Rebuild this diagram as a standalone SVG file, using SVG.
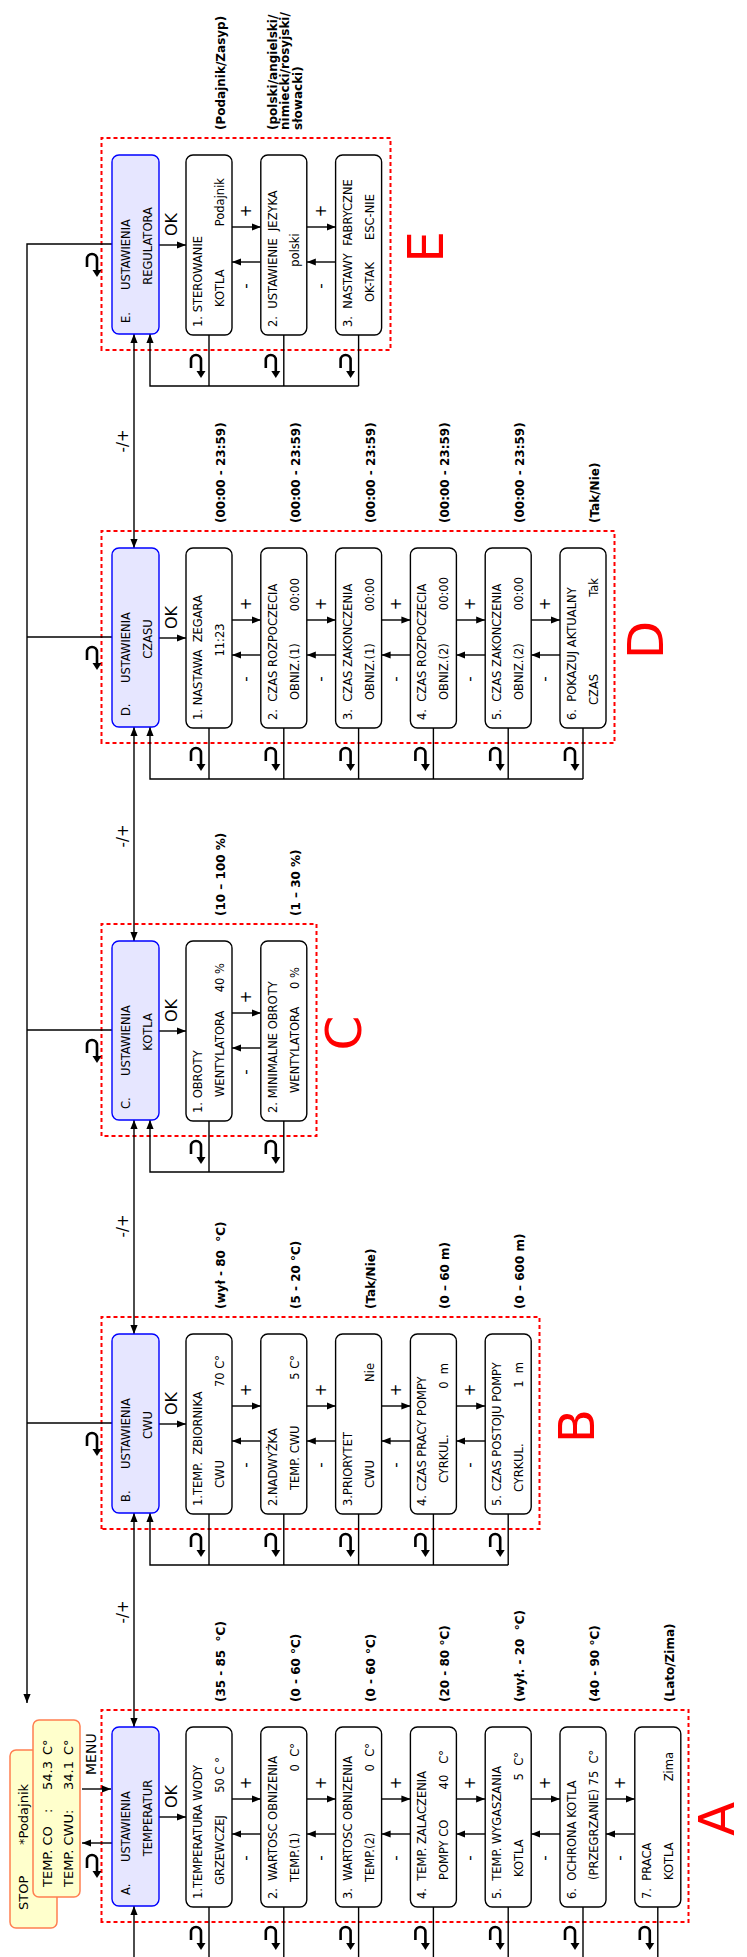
<svg xmlns="http://www.w3.org/2000/svg" xmlns:xlink="http://www.w3.org/1999/xlink" width="747" height="1957" viewBox="0 0 747 1957">
<style>
text{font-family:"DejaVu Sans","Liberation Sans",sans-serif;fill:#000}
.t{font-size:11.5px}
.r{font-size:12px;font-weight:bold}
.ok{font-size:16px}
.pm{font-size:15px;text-anchor:middle}
.big{font-size:50px;fill:#f00;text-anchor:middle}
.d{font-size:13px}
.box{fill:#fff;stroke:#000;stroke-width:1.4}
.hdr{fill:#e6e6ff;stroke:#00f;stroke-width:1.4}
.frm{fill:none;stroke:#f00;stroke-width:2;stroke-dasharray:4 3}
.disp{fill:#ffffcc;stroke:#ff7f50;stroke-width:1.5}
.ln{stroke:#000;stroke-width:1.4;fill:none}
.a{marker-end:url(#ah)}
.a2{marker-start:url(#ah);marker-end:url(#ah)}
.m{text-anchor:middle}
.e{text-anchor:end}
</style>
<defs>
<marker id="ah" viewBox="0 0 10 8" refX="10" refY="4" markerWidth="9" markerHeight="7.5" markerUnits="userSpaceOnUse" orient="auto-start-reverse"><path d="M0,0L10,4L0,8z" fill="#000"/></marker>
<g id="ret"><path d="M10,0H18A5,5 0 0 1 18,10H6" fill="none" stroke="#000" stroke-width="2.6"/><path d="M0,10L7,5.5L7,14.5z" fill="#000"/></g>
</defs>
<rect width="747" height="1957" fill="#fff"/>
<g transform="translate(0,1957) rotate(-90)">

<g id="frames">
<rect class="frm" x="35" y="101.5" width="212" height="587"/>
<rect class="frm" x="428" y="101.5" width="212" height="438"/>
<rect class="frm" x="821" y="101.5" width="212" height="215"/>
<rect class="frm" x="1214" y="101.5" width="212" height="513"/>
<rect class="frm" x="1607" y="101.5" width="212" height="289"/>
<text class="big" x="138" y="734">A</text>
<text class="big" x="531" y="594">B</text>
<text class="big" x="924" y="361">C</text>
<text class="big" x="1317" y="663">D</text>
<text class="big" x="1710" y="443">E</text>
</g>

<g id="connectors">
<path class="ln a" d="M1713,112V27H254"/>
<line class="ln" x1="534" y1="27" x2="534" y2="112"/>
<line class="ln" x1="927" y1="27" x2="927" y2="112"/>
<line class="ln" x1="1320" y1="27" x2="1320" y2="112"/>
<line class="ln a" x1="168" y1="82" x2="168" y2="111"/>
<line class="ln a" x1="114" y1="112" x2="114" y2="82"/>
<line class="ln a" x1="-5" y1="134" x2="51" y2="134"/>
<line class="ln a2" x1="230" y1="134" x2="444" y2="134"/>
<line class="ln a2" x1="623" y1="134" x2="837" y2="134"/>
<line class="ln a2" x1="1016" y1="134" x2="1230" y2="134"/>
<line class="ln a2" x1="1409" y1="134" x2="1623" y2="134"/>
<line class="ln a" x1="140" y1="159" x2="140" y2="186"/>
<line class="ln a" x1="533" y1="159" x2="533" y2="186"/>
<line class="ln a" x1="926" y1="159" x2="926" y2="186"/>
<line class="ln a" x1="1319" y1="159" x2="1319" y2="186"/>
<line class="ln a" x1="1712" y1="159" x2="1712" y2="186"/>
<path class="ln a" d="M392,508.2V150H444"/>
<path class="ln a" d="M785,283.8V150H837"/>
<path class="ln a" d="M1178,583V150H1230"/>
<path class="ln a" d="M1571,358.6V150H1623"/>
<path class="ln" d="M50,209H-5M50,283.8H-5M50,358.6H-5M50,433.4H-5M50,508.2H-5M50,583H-5M50,657.8H-5"/>
<path class="ln" d="M443,209H392M443,283.8H392M443,358.6H392M443,433.4H392M443,508.2H392"/>
<path class="ln" d="M836,209H785M836,283.8H785"/>
<path class="ln" d="M1229,209H1178M1229,283.8H1178M1229,358.6H1178M1229,433.4H1178M1229,508.2H1178M1229,583H1178"/>
<path class="ln" d="M1622,209H1571M1622,283.8H1571M1622,358.6H1571"/>
<g class="ln a">
<line x1="158" y1="232" x2="158" y2="260.8"/><line x1="158" y1="306.8" x2="158" y2="335.6"/><line x1="158" y1="381.6" x2="158" y2="410.4"/><line x1="158" y1="456.4" x2="158" y2="485.2"/><line x1="158" y1="531.2" x2="158" y2="560"/><line x1="158" y1="606" x2="158" y2="634.8"/>
<line x1="123" y1="260.8" x2="123" y2="232"/><line x1="123" y1="335.6" x2="123" y2="306.8"/><line x1="123" y1="410.4" x2="123" y2="381.6"/><line x1="123" y1="485.2" x2="123" y2="456.4"/><line x1="123" y1="560" x2="123" y2="531.2"/><line x1="123" y1="634.8" x2="123" y2="606"/>
<line x1="551" y1="232" x2="551" y2="260.8"/><line x1="551" y1="306.8" x2="551" y2="335.6"/><line x1="551" y1="381.6" x2="551" y2="410.4"/><line x1="551" y1="456.4" x2="551" y2="485.2"/>
<line x1="516" y1="260.8" x2="516" y2="232"/><line x1="516" y1="335.6" x2="516" y2="306.8"/><line x1="516" y1="410.4" x2="516" y2="381.6"/><line x1="516" y1="485.2" x2="516" y2="456.4"/>
<line x1="944" y1="232" x2="944" y2="260.8"/>
<line x1="909" y1="260.8" x2="909" y2="232"/>
<line x1="1337" y1="232" x2="1337" y2="260.8"/><line x1="1337" y1="306.8" x2="1337" y2="335.6"/><line x1="1337" y1="381.6" x2="1337" y2="410.4"/><line x1="1337" y1="456.4" x2="1337" y2="485.2"/><line x1="1337" y1="531.2" x2="1337" y2="560"/>
<line x1="1302" y1="260.8" x2="1302" y2="232"/><line x1="1302" y1="335.6" x2="1302" y2="306.8"/><line x1="1302" y1="410.4" x2="1302" y2="381.6"/><line x1="1302" y1="485.2" x2="1302" y2="456.4"/><line x1="1302" y1="560" x2="1302" y2="531.2"/>
<line x1="1730" y1="232" x2="1730" y2="260.8"/><line x1="1730" y1="306.8" x2="1730" y2="335.6"/>
<line x1="1695" y1="260.8" x2="1695" y2="232"/><line x1="1695" y1="335.6" x2="1695" y2="306.8"/>
</g>
<use xlink:href="#ret" transform="translate(79,87)"/>
<use xlink:href="#ret" transform="translate(501,87)"/>
<use xlink:href="#ret" transform="translate(894,87)"/>
<use xlink:href="#ret" transform="translate(1287,87)"/>
<use xlink:href="#ret" transform="translate(1680,87)"/>
<use xlink:href="#ret" transform="translate(7,191)"/><use xlink:href="#ret" transform="translate(7,265.8)"/><use xlink:href="#ret" transform="translate(7,340.6)"/><use xlink:href="#ret" transform="translate(7,415.4)"/><use xlink:href="#ret" transform="translate(7,490.2)"/><use xlink:href="#ret" transform="translate(7,565)"/><use xlink:href="#ret" transform="translate(7,639.8)"/>
<use xlink:href="#ret" transform="translate(400,191)"/><use xlink:href="#ret" transform="translate(400,265.8)"/><use xlink:href="#ret" transform="translate(400,340.6)"/><use xlink:href="#ret" transform="translate(400,415.4)"/><use xlink:href="#ret" transform="translate(400,490.2)"/>
<use xlink:href="#ret" transform="translate(793,191)"/><use xlink:href="#ret" transform="translate(793,265.8)"/>
<use xlink:href="#ret" transform="translate(1186,191)"/><use xlink:href="#ret" transform="translate(1186,265.8)"/><use xlink:href="#ret" transform="translate(1186,340.6)"/><use xlink:href="#ret" transform="translate(1186,415.4)"/><use xlink:href="#ret" transform="translate(1186,490.2)"/><use xlink:href="#ret" transform="translate(1186,565)"/>
<use xlink:href="#ret" transform="translate(1579,191)"/><use xlink:href="#ret" transform="translate(1579,265.8)"/><use xlink:href="#ret" transform="translate(1579,340.6)"/>
<text class="d" x="182" y="96" style="font-size:14px">MENU</text>
<text class="pm" x="345" y="128">-/+</text>
<text class="pm" x="731" y="128">-/+</text>
<text class="pm" x="1121" y="128">-/+</text>
<text class="pm" x="1516" y="128">-/+</text>
<text class="ok" x="149" y="177">OK</text>
<text class="ok" x="542" y="177">OK</text>
<text class="ok" x="935" y="177">OK</text>
<text class="ok" x="1328" y="177">OK</text>
<text class="ok" x="1721" y="177">OK</text>
<g class="pm">
<text x="174" y="251">+</text><text x="174" y="325.8">+</text><text x="174" y="400.6">+</text><text x="174" y="475.4">+</text><text x="174" y="550.2">+</text><text x="174" y="625">+</text>
<text x="99" y="251">-</text><text x="99" y="325.8">-</text><text x="99" y="400.6">-</text><text x="99" y="475.4">-</text><text x="99" y="550.2">-</text><text x="99" y="625">-</text>
<text x="567" y="251">+</text><text x="567" y="325.8">+</text><text x="567" y="400.6">+</text><text x="567" y="475.4">+</text>
<text x="492" y="251">-</text><text x="492" y="325.8">-</text><text x="492" y="400.6">-</text><text x="492" y="475.4">-</text>
<text x="960" y="251">+</text><text x="885" y="251">-</text>
<text x="1353" y="251">+</text><text x="1353" y="325.8">+</text><text x="1353" y="400.6">+</text><text x="1353" y="475.4">+</text><text x="1353" y="550.2">+</text>
<text x="1278" y="251">-</text><text x="1278" y="325.8">-</text><text x="1278" y="400.6">-</text><text x="1278" y="475.4">-</text><text x="1278" y="550.2">-</text>
<text x="1746" y="251">+</text><text x="1746" y="325.8">+</text>
<text x="1671" y="251">-</text><text x="1671" y="325.8">-</text>
</g>
</g>

<g id="display">
<rect class="disp" x="29" y="10" width="178" height="47" rx="6"/>
<rect class="disp" x="60" y="33" width="177" height="47" rx="6"/>
<text class="d" x="47" y="28">STOP</text>
<text class="d" x="112" y="28">*Podajnik</text>
<text class="d" x="70" y="52">TEMP. CO</text><text class="d" x="144" y="52">:</text><text class="d" x="167" y="52">54.3</text><text class="d" x="202" y="52">C°</text>
<text class="d" x="70" y="73">TEMP. CWU:</text><text class="d" x="167" y="73">34.1</text><text class="d" x="202" y="73">C°</text>
</g>

<g id="A0"><rect class="hdr" x="51" y="112" width="179" height="47" rx="7"/><text class="t" x="62" y="129.5">A.</text><text class="t" x="95" y="129.5">USTAWIENIA</text><text class="t m" x="139" y="151.5">TEMPERATUR</text></g>
<g id="A1"><rect class="box" x="50" y="186" width="180" height="46" rx="7"/><text class="t" x="58" y="202">1.TEMPERATURA WODY</text><text class="t" x="72" y="224">GRZEWCZEJ</text><text class="t e" x="200" y="224">50 C °</text><text class="r" x="255" y="225">(35 - 85 &#160;°C)</text></g>
<g id="A2"><rect class="box" x="50" y="260.8" width="180" height="46" rx="7"/><text class="t" x="58" y="276.8">2.&#160; WARTOSC OBNIZENIA</text><text class="t" x="75" y="298.8">TEMP.(1)</text><text class="t e" x="214" y="298.8">0&#160; C°</text><text class="r" x="255" y="299.8">(0 - 60 °C)</text></g>
<g id="A3"><rect class="box" x="50" y="335.6" width="180" height="46" rx="7"/><text class="t" x="58" y="351.6">3.&#160; WARTOSC OBNIZENIA</text><text class="t" x="75" y="373.6">TEMP.(2)</text><text class="t e" x="214" y="373.6">0&#160; C°</text><text class="r" x="255" y="374.6">(0 - 60 °C)</text></g>
<g id="A4"><rect class="box" x="50" y="410.4" width="180" height="46" rx="7"/><text class="t" x="58" y="426.4">4.&#160; TEMP. ZALACZENIA</text><text class="t" x="77" y="448.4">POMPY CO</text><text class="t e" x="207" y="448.4">40&#160;&#160; C°</text><text class="r" x="255" y="449.4">(20 - 80 °C)</text></g>
<g id="A5"><rect class="box" x="50" y="485.2" width="180" height="46" rx="7"/><text class="t" x="58" y="501.2">5.&#160; TEMP. WYGASZANIA</text><text class="t" x="80" y="523.2">KOTLA</text><text class="t e" x="205" y="523.2">5&#160; C°</text><text class="r" x="255" y="524.2">(wył. - 20 &#160;°C)</text></g>
<g id="A6"><rect class="box" x="50" y="560" width="180" height="46" rx="7"/><text class="t" x="58" y="576">6.&#160; OCHRONA KOTLA</text><text class="t" x="77" y="598">(PRZEGRZANIE) 75&#160; C°</text><text class="r" x="255" y="599">(40 - 90 °C)</text></g>
<g id="A7"><rect class="box" x="50" y="634.8" width="180" height="46" rx="7"/><text class="t" x="58" y="650.8">7.&#160; PRACA</text><text class="t" x="77" y="672.8">KOTLA</text><text class="t e" x="205" y="672.8">Zima</text><text class="r" x="255" y="673.8">(Lato/Zima)</text></g>

<g id="B0"><rect class="hdr" x="444" y="112" width="179" height="47" rx="7"/><text class="t" x="455" y="129.5">B.</text><text class="t" x="488" y="129.5">USTAWIENIA</text><text class="t m" x="532" y="151.5">CWU</text></g>
<g id="B1"><rect class="box" x="443" y="186" width="180" height="46" rx="7"/><text class="t" x="451" y="202">1.TEMP.&#160; ZBIORNIKA</text><text class="t" x="469" y="224">CWU</text><text class="t e" x="602" y="224">70 C°</text><text class="r" x="648" y="225">(wył - 80 &#160;°C)</text></g>
<g id="B2"><rect class="box" x="443" y="260.8" width="180" height="46" rx="7"/><text class="t" x="451" y="276.8">2.NADWYŻKA</text><text class="t" x="467" y="298.8">TEMP. CWU</text><text class="t e" x="602" y="298.8">5 C°</text><text class="r" x="648" y="299.8">(5 - 20 °C)</text></g>
<g id="B3"><rect class="box" x="443" y="335.6" width="180" height="46" rx="7"/><text class="t" x="451" y="351.6">3.PRIORYTET</text><text class="t" x="469" y="373.6">CWU</text><text class="t e" x="594" y="373.6">Nie</text><text class="r" x="648" y="374.6">(Tak/Nie)</text></g>
<g id="B4"><rect class="box" x="443" y="410.4" width="180" height="46" rx="7"/><text class="t" x="451" y="426.4">4. CZAS PRACY POMPY</text><text class="t" x="474" y="448.4">CYRKUL.</text><text class="t e" x="594" y="448.4">0&#160; m</text><text class="r" x="648" y="449.4">(0 – 60 m)</text></g>
<g id="B5"><rect class="box" x="443" y="485.2" width="180" height="46" rx="7"/><text class="t" x="451" y="501.2">5. CZAS POSTOJU POMPY</text><text class="t" x="465" y="523.2">CYRKUL.</text><text class="t e" x="595" y="523.2">1&#160; m</text><text class="r" x="648" y="524.2">(0 – 600 m)</text></g>

<g id="C0"><rect class="hdr" x="837" y="112" width="179" height="47" rx="7"/><text class="t" x="848" y="129.5">C.</text><text class="t" x="881" y="129.5">USTAWIENIA</text><text class="t m" x="925" y="151.5">KOTLA</text></g>
<g id="C1"><rect class="box" x="836" y="186" width="180" height="46" rx="7"/><text class="t" x="844" y="202">1. OBROTY</text><text class="t" x="860" y="224">WENTYLATORA</text><text class="t e" x="994" y="224">40 %</text><text class="r" x="1041" y="225">(10 – 100 %)</text></g>
<g id="C2"><rect class="box" x="836" y="260.8" width="180" height="46" rx="7"/><text class="t" x="844" y="276.8">2. MINIMALNE OBROTY</text><text class="t" x="864" y="298.8">WENTYLATORA</text><text class="t e" x="990" y="298.8">0 %</text><text class="r" x="1041" y="299.8">(1 – 30 %)</text></g>

<g id="D0"><rect class="hdr" x="1230" y="112" width="179" height="47" rx="7"/><text class="t" x="1241" y="129.5">D.</text><text class="t" x="1274" y="129.5">USTAWIENIA</text><text class="t m" x="1318" y="151.5">CZASU</text></g>
<g id="D1"><rect class="box" x="1229" y="186" width="180" height="46" rx="7"/><text class="t" x="1237" y="202">1. NASTAWA&#160; ZEGARA</text><text class="t m" x="1317" y="224">11:23</text><text class="r" x="1434" y="225">(00:00 - 23:59)</text></g>
<g id="D2"><rect class="box" x="1229" y="260.8" width="180" height="46" rx="7"/><text class="t" x="1237" y="276.8">2.&#160; CZAS ROZPOCZECIA</text><text class="t" x="1257" y="298.8">OBNIZ.(1)</text><text class="t e" x="1379" y="298.8">00:00</text><text class="r" x="1434" y="299.8">(00:00 - 23:59)</text></g>
<g id="D3"><rect class="box" x="1229" y="335.6" width="180" height="46" rx="7"/><text class="t" x="1237" y="351.6">3.&#160; CZAS ZAKONCZENIA</text><text class="t" x="1257" y="373.6">OBNIZ.(1)</text><text class="t e" x="1379" y="373.6">00:00</text><text class="r" x="1434" y="374.6">(00:00 - 23:59)</text></g>
<g id="D4"><rect class="box" x="1229" y="410.4" width="180" height="46" rx="7"/><text class="t" x="1237" y="426.4">4.&#160; CZAS ROZPOCZECIA</text><text class="t" x="1257" y="448.4">OBNIZ.(2)</text><text class="t e" x="1380" y="448.4">00:00</text><text class="r" x="1434" y="449.4">(00:00 - 23:59)</text></g>
<g id="D5"><rect class="box" x="1229" y="485.2" width="180" height="46" rx="7"/><text class="t" x="1237" y="501.2">5.&#160; CZAS ZAKONCZENIA</text><text class="t" x="1257" y="523.2">OBNIZ.(2)</text><text class="t e" x="1380" y="523.2">00:00</text><text class="r" x="1434" y="524.2">(00:00 - 23:59)</text></g>
<g id="D6"><rect class="box" x="1229" y="560" width="180" height="46" rx="7"/><text class="t" x="1237" y="576">6.&#160; POKAZUJ AKTUALNY</text><text class="t" x="1252" y="598">CZAS</text><text class="t e" x="1379" y="598">Tak</text><text class="r" x="1434" y="599">(Tak/Nie)</text></g>

<g id="E0"><rect class="hdr" x="1623" y="112" width="179" height="47" rx="7"/><text class="t" x="1634" y="129.5">E.</text><text class="t" x="1667" y="129.5">USTAWIENIA</text><text class="t m" x="1711" y="151.5">REGULATORA</text></g>
<g id="E1"><rect class="box" x="1622" y="186" width="180" height="46" rx="7"/><text class="t" x="1630" y="202">1. STEROWANIE</text><text class="t" x="1650" y="224">KOTLA</text><text class="t e" x="1779" y="224">Podajnik</text><text class="r" x="1827" y="225">(Podajnik/Zasyp)</text></g>
<g id="E2"><rect class="box" x="1622" y="260.8" width="180" height="46" rx="7"/><text class="t" x="1630" y="276.8">2.&#160; USTAWIENIE&#160; JEZYKA</text><text class="t m" x="1707" y="298.8">polski</text><text class="r" x="1827" y="276.5">(polski/angielski/</text><text class="r" x="1827" y="289">nimiecki/rosyjski/</text><text class="r" x="1827" y="301.5">słowacki)</text></g>
<g id="E3"><rect class="box" x="1622" y="335.6" width="180" height="46" rx="7"/><text class="t" x="1630" y="351.6">3.&#160; NASTAWY&#160; FABRYCZNE</text><text class="t" x="1655" y="373.6">OK-TAK</text><text class="t" x="1717" y="373.6">ESC-NIE</text></g>

</g>
</svg>
